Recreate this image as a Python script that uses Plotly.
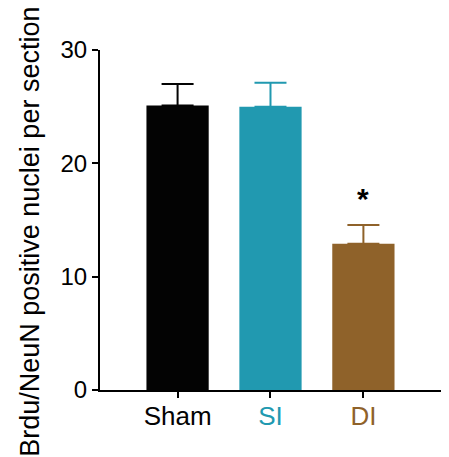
import plotly.graph_objects as go

categories = ["Sham", "SI", "DI"]
means = [25.1, 25.0, 12.9]
sem = [1.9, 2.1, 1.65]
colors = ["#030303", "#2199B0", "#8F622A"]
y_ticks = [0, 10, 20, 30]
y_title = "Brdu/NeuN positive nuclei per section"
sig_label = "<b>*</b>"

FONT = "Liberation Sans, Arial, sans-serif"

fig = go.Figure()
for c, m, s, col in zip(categories, means, sem, colors):
    fig.add_trace(go.Bar(
        x=[c], y=[m], marker=dict(color=col, line=dict(width=0)),
        width=0.67,
        error_y=dict(type="data", array=[s], arrayminus=[0], symmetric=False,
                     color=col, thickness=2, width=16),
        showlegend=False,
    ))

ticktext = [f"<span style='color:{col}'>{c}</span>" for c, col in zip(categories, colors)]

fig.add_annotation(x="DI", y=16.9, xref="x", yref="y", text=sig_label, showarrow=False,
                   font=dict(family=FONT, size=30, color="black"))
fig.add_annotation(x=-0.205, y=0.465, xref="paper", yref="paper", text=y_title,
                   textangle=-90, showarrow=False, xanchor="center", yanchor="middle",
                   font=dict(family=FONT, size=27, color="black"))

fig.update_layout(
    width=441, height=449,
    margin=dict(l=92, r=7, t=42, b=67, autoexpand=False),
    paper_bgcolor="white", plot_bgcolor="white",
    font=dict(family=FONT, size=24, color="black"),
    bargap=0.33,
)
fig.update_xaxes(
    range=[-0.835, 2.846], tickmode="array", tickvals=categories, ticktext=ticktext,
    showline=True, linecolor="black", linewidth=2,
    ticks="outside", ticklen=6, tickwidth=2, tickcolor="black",
    showgrid=False, zeroline=False, tickfont=dict(size=26), automargin=False,
    ticklabelstandoff=-4,
)
fig.update_yaxes(
    range=[0, 30], tickmode="array", tickvals=y_ticks,
    showline=True, linecolor="black", linewidth=2,
    ticks="outside", ticklen=6, tickwidth=2, tickcolor="black",
    showgrid=False, zeroline=False, tickfont=dict(size=24), automargin=False,
)

fig.write_html("out.html")
